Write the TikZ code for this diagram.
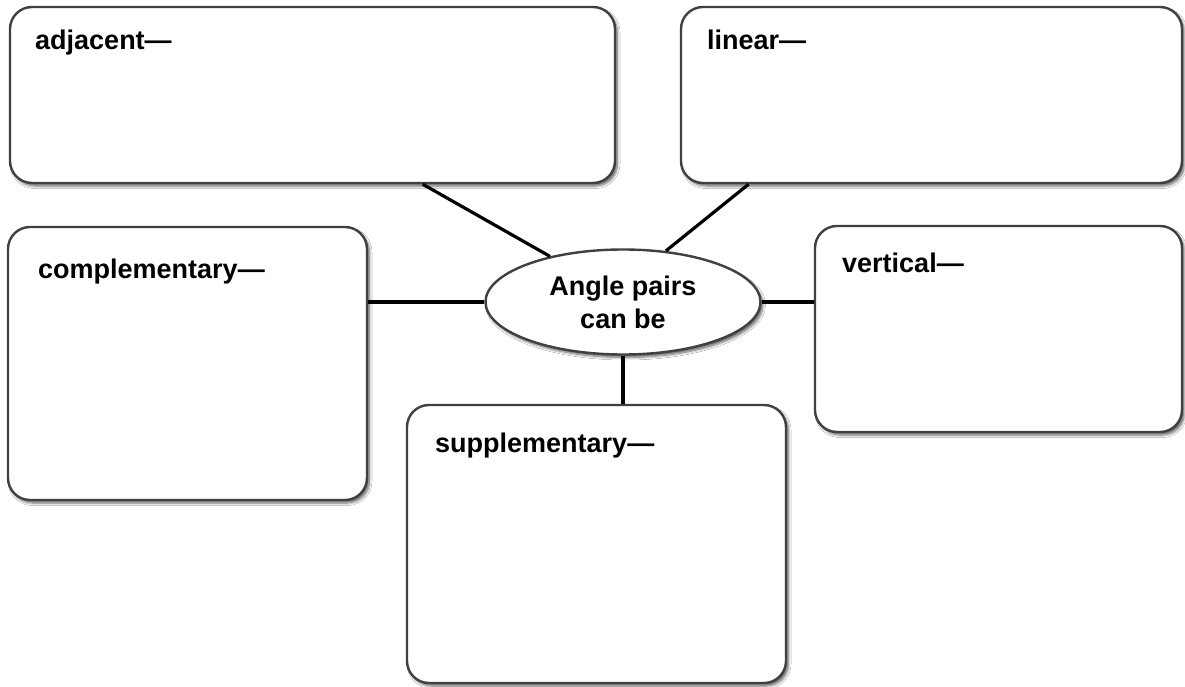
\documentclass[tikz,border=0pt]{standalone}
\usepackage{fontspec}
\setmainfont{Liberation Sans}
\usetikzlibrary{shapes.geometric,shadows.blur}
\definecolor{boxline}{HTML}{404040}
\tikzset{
  softshadow/.style={blur shadow={shadow xshift=2.5pt, shadow yshift=-3pt,
      shadow blur radius=2.5pt, shadow blur steps=6, shadow opacity=60}},
  card/.style={draw=boxline, line width=2.4pt, fill=white, rounded corners=22pt,
    inner sep=0pt, softshadow},
  hubshape/.style={ellipse, draw=boxline, line width=2.4pt, fill=white, inner sep=0pt,
    softshadow},
  term/.style={anchor=base west, inner sep=0pt, font=\bfseries\fontsize{27}{32}\selectfont},
  link/.style={draw=black, line width=3.2pt}
}
\begin{document}
\begin{tikzpicture}[x=1pt, y=-1pt]
  \useasboundingbox[fill=white] (0,0) rectangle (1185,687);

  % centre ellipse
  \node[hubshape, minimum width=275pt, minimum height=105pt,
        align=center, font=\bfseries\fontsize{27}{34}\selectfont] (hub) at (623,302)
        {Angle pairs\\[-1pt]can be};

  % boxes
  \node[card, minimum width=605pt, minimum height=176pt] (adj)  at (312.5,95) {};
  \node[card, minimum width=501pt, minimum height=176pt] (lin)  at (931.5,95) {};
  \node[card, minimum width=359pt, minimum height=273pt] (comp) at (187.5,363.5) {};
  \node[card, minimum width=367pt, minimum height=206pt] (vert) at (998.5,329) {};
  \node[card, minimum width=379pt, minimum height=278pt] (sup)  at (596.5,544) {};

  % box headings
  \node[term] (adjtxt)  at (35,50)   {adjacent—};
  \node[term] (lintxt)  at (707,50)  {linear—};
  \node[term] (comptxt) at (38,278)  {complementary—};
  \node[term] (verttxt) at (842,272) {vertical—};
  \node[term] (suptxt)  at (435,452) {supplementary—};

  % spokes from the centre ellipse to each box
  \draw[link] (adj.-39.8) -- (hub.148);
  \draw[link] (lin.206.5) -- (hub.50);
  \draw[link] (hub.west) -- (hub.west -| comp.east);
  \draw[link] (hub.east) -- (hub.east -| vert.west);
  \draw[link] (hub.south) -- (hub.south |- sup.north);
\end{tikzpicture}
\end{document}
